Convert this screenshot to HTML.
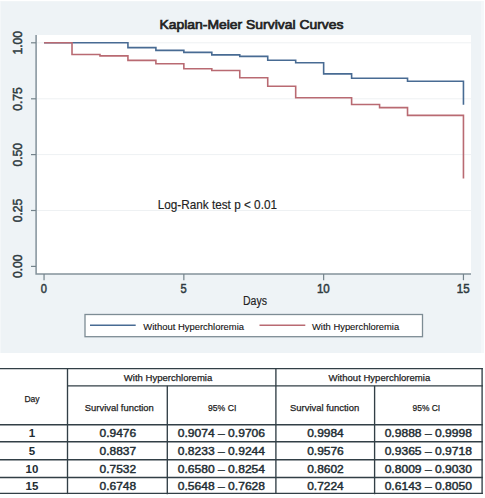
<!DOCTYPE html>
<html><head><meta charset="utf-8"><style>
html,body{margin:0;padding:0;background:#fff;width:485px;height:498px;overflow:hidden}
svg{display:block;font-family:"Liberation Sans",sans-serif}
</style></head><body>
<svg width="485" height="498" viewBox="0 0 485 498">
<rect x="0" y="1" width="484" height="352" fill="#f4f7f9"/>
<rect x="1" y="1.5" width="480" height="351.5" fill="#eef3f6"/>
<rect x="36.5" y="35" width="434.5" height="239" fill="#fff"/>
<g stroke="#eef1f3" stroke-width="1"><line x1="37" x2="471" y1="42.8" y2="42.8" /><line x1="37" x2="471" y1="98.8" y2="98.8" /><line x1="37" x2="471" y1="154.6" y2="154.6" /><line x1="37" x2="471" y1="210.5" y2="210.5" /></g>
<g stroke="#84929a" stroke-width="1.5" fill="none">
<path d="M36.1,35 V274.1 H471"/>
</g>
<g stroke="#74838b" stroke-width="1.2" fill="none"><line x1="31" x2="36" y1="42.8" y2="42.8" /><line x1="31" x2="36" y1="98.8" y2="98.8" /><line x1="31" x2="36" y1="154.6" y2="154.6" /><line x1="31" x2="36" y1="210.5" y2="210.5" /><line x1="31" x2="36" y1="266.4" y2="266.4" /><line x1="44.05" x2="44.05" y1="274" y2="280.2" /><line x1="183.85" x2="183.85" y1="274" y2="280.2" /><line x1="323.65" x2="323.65" y1="274" y2="280.2" /><line x1="463.45" x2="463.45" y1="274" y2="280.2" /></g>
<g fill="#2e3a40" stroke="#2e3a40" stroke-width="0.5" font-size="12.2"><text transform="translate(22.2,42.8) rotate(-90)" text-anchor="middle" textLength="23.6" lengthAdjust="spacingAndGlyphs">1.00</text><text transform="translate(22.2,99.0) rotate(-90)" text-anchor="middle" textLength="23.6" lengthAdjust="spacingAndGlyphs">0.75</text><text transform="translate(22.2,154.7) rotate(-90)" text-anchor="middle" textLength="23.6" lengthAdjust="spacingAndGlyphs">0.50</text><text transform="translate(22.2,210.5) rotate(-90)" text-anchor="middle" textLength="23.6" lengthAdjust="spacingAndGlyphs">0.25</text><text transform="translate(22.2,266.2) rotate(-90)" text-anchor="middle" textLength="23.6" lengthAdjust="spacingAndGlyphs">0.00</text></g>
<g fill="#2e3a40" stroke="#2e3a40" stroke-width="0.5" font-size="12.4"><text x="43.75" y="292.9" text-anchor="middle" textLength="6.2" lengthAdjust="spacingAndGlyphs">0</text><text x="183.54999999999998" y="292.9" text-anchor="middle" textLength="6.2" lengthAdjust="spacingAndGlyphs">5</text><text x="323.34999999999997" y="292.9" text-anchor="middle" textLength="12.9" lengthAdjust="spacingAndGlyphs">10</text><text x="463.15" y="292.9" text-anchor="middle" textLength="12.9" lengthAdjust="spacingAndGlyphs">15</text></g>
<path d="M44.05,42.7 H127.93 V47.6 H155.89 V50.4 H183.85 V52.4 H211.81 V54.9 H239.77 V56.4 H267.73 V60.2 H295.69 V62.8 H323.65 V73.9 H351.61 V78.3 H407.53 V81.3 H463.45 V104.7" stroke="#486b93" stroke-width="1.6" fill="none"/>
<path d="M44.05,42.7 H72.01 V54.5 H99.97 V55.9 H127.93 V60.4 H155.89 V63.8 H183.85 V68.8 H211.81 V70.5 H239.77 V77.7 H267.73 V86.3 H295.69 V97.8 H351.61 V104.5 H379.57 V107.6 H407.53 V115.4 H463.45 V178.6" stroke="#b96a72" stroke-width="1.6" fill="none"/>
<text x="159.5" y="28.8" font-size="13.2" fill="#222" stroke="#222" stroke-width="0.7" textLength="184" lengthAdjust="spacingAndGlyphs">Kaplan-Meier Survival Curves</text>
<text x="157.7" y="208.7" font-size="12.6" fill="#222" stroke="#222" stroke-width="0.15" textLength="119.3" lengthAdjust="spacingAndGlyphs">Log-Rank test p &lt; 0.01</text>
<text x="243" y="305" font-size="12.3" fill="#222" stroke="#222" stroke-width="0.15" textLength="24" lengthAdjust="spacingAndGlyphs">Days</text>
<rect x="85" y="314.5" width="337.5" height="22.2" fill="#fff" stroke="#7d8c94" stroke-width="1.3"/>
<line x1="90" x2="135.7" y1="325.3" y2="325.3" stroke="#486b93" stroke-width="1.6"/>
<line x1="259.5" x2="305.3" y1="325.3" y2="325.3" stroke="#b96a72" stroke-width="1.6"/>
<text x="143.3" y="329.8" font-size="9.1" fill="#111" stroke="#111" stroke-width="0.1" textLength="100.7" lengthAdjust="spacingAndGlyphs">Without Hyperchloremia</text>
<text x="312" y="329.8" font-size="9.1" fill="#111" stroke="#111" stroke-width="0.1" textLength="87.2" lengthAdjust="spacingAndGlyphs">With Hyperchloremia</text>
<g stroke="#323f46" stroke-width="1.35"><line x1="0" x2="482.9" y1="368.6" y2="368.6"/><line x1="67.5" x2="482.9" y1="385.8" y2="385.8"/><line x1="0" x2="482.9" y1="424.7" y2="424.7"/><line x1="0" x2="482.9" y1="441.7" y2="441.7"/><line x1="0" x2="482.9" y1="459.7" y2="459.7"/><line x1="0" x2="482.9" y1="477.5" y2="477.5"/><line x1="0" x2="482.9" y1="493.4" y2="493.4"/><line x1="67.5" x2="67.5" y1="368" y2="494.1"/><line x1="275.9" x2="275.9" y1="368" y2="494.1"/><line x1="482.1" x2="482.1" y1="368" y2="494.1"/><line x1="167.3" x2="167.3" y1="385.8" y2="494.2"/><line x1="374.6" x2="374.6" y1="385.8" y2="494.2"/></g>
<g fill="#222" stroke="#222" stroke-width="0.25" font-size="9.7">
<text x="24.4" y="402" textLength="15.2" lengthAdjust="spacingAndGlyphs">Day</text>
<text x="123.8" y="380.7" textLength="88.5" lengthAdjust="spacingAndGlyphs">With Hyperchloremia</text>
<text x="328.5" y="380.7" textLength="101.7" lengthAdjust="spacingAndGlyphs">Without Hyperchloremia</text>
<text x="84.8" y="410.9" textLength="69" lengthAdjust="spacingAndGlyphs">Survival function</text>
<text x="208" y="410.9" textLength="28.3" lengthAdjust="spacingAndGlyphs">95% CI</text>
<text x="290" y="410.9" textLength="69.2" lengthAdjust="spacingAndGlyphs">Survival function</text>
<text x="412.6" y="410.9" textLength="27.6" lengthAdjust="spacingAndGlyphs">95% CI</text>
</g>
<g fill="#222d33" stroke="#222d33" stroke-width="0.45" font-size="11.5"><text x="32" y="437.3" text-anchor="middle" font-weight="bold" stroke-width="0">1</text><text x="117.9" y="437.3" text-anchor="middle" textLength="36.6" lengthAdjust="spacingAndGlyphs">0.9476</text><text x="221.4" y="437.3" text-anchor="middle" textLength="87.3" lengthAdjust="spacingAndGlyphs">0.9074 – 0.9706</text><text x="325.5" y="437.3" text-anchor="middle" textLength="36.6" lengthAdjust="spacingAndGlyphs">0.9984</text><text x="428.3" y="437.3" text-anchor="middle" textLength="87.3" lengthAdjust="spacingAndGlyphs">0.9888 – 0.9998</text><text x="32" y="454.9" text-anchor="middle" font-weight="bold" stroke-width="0">5</text><text x="117.9" y="454.9" text-anchor="middle" textLength="36.6" lengthAdjust="spacingAndGlyphs">0.8837</text><text x="221.4" y="454.9" text-anchor="middle" textLength="87.3" lengthAdjust="spacingAndGlyphs">0.8233 – 0.9244</text><text x="325.5" y="454.9" text-anchor="middle" textLength="36.6" lengthAdjust="spacingAndGlyphs">0.9576</text><text x="428.3" y="454.9" text-anchor="middle" textLength="87.3" lengthAdjust="spacingAndGlyphs">0.9365 – 0.9718</text><text x="32" y="472.7" text-anchor="middle" font-weight="bold" stroke-width="0">10</text><text x="117.9" y="472.7" text-anchor="middle" textLength="36.6" lengthAdjust="spacingAndGlyphs">0.7532</text><text x="221.4" y="472.7" text-anchor="middle" textLength="87.3" lengthAdjust="spacingAndGlyphs">0.6580 – 0.8254</text><text x="325.5" y="472.7" text-anchor="middle" textLength="36.6" lengthAdjust="spacingAndGlyphs">0.8602</text><text x="428.3" y="472.7" text-anchor="middle" textLength="87.3" lengthAdjust="spacingAndGlyphs">0.8009 – 0.9030</text><text x="32" y="490.1" text-anchor="middle" font-weight="bold" stroke-width="0">15</text><text x="117.9" y="490.1" text-anchor="middle" textLength="36.6" lengthAdjust="spacingAndGlyphs">0.6748</text><text x="221.4" y="490.1" text-anchor="middle" textLength="87.3" lengthAdjust="spacingAndGlyphs">0.5648 – 0.7628</text><text x="325.5" y="490.1" text-anchor="middle" textLength="36.6" lengthAdjust="spacingAndGlyphs">0.7224</text><text x="428.3" y="490.1" text-anchor="middle" textLength="87.3" lengthAdjust="spacingAndGlyphs">0.6143 – 0.8050</text></g>
</svg>
</body></html>
